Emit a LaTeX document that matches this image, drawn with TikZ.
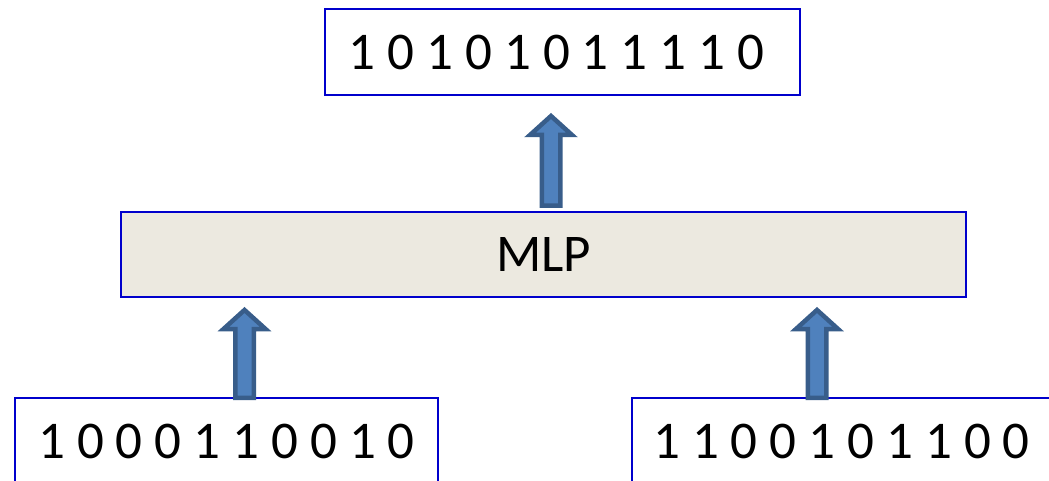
\documentclass[tikz,border=0pt]{standalone}
\usepackage{fontspec}
\setmainfont{Carlito}
\usetikzlibrary{calc}
\definecolor{boxBlue}{RGB}{0,0,204}
\definecolor{mlpFill}{RGB}{236,233,224}
\definecolor{arrFill}{RGB}{79,129,189}
\definecolor{arrLine}{RGB}{56,93,138}
\newcommand{\bitSize}[0]{\fontsize{53}{60}\selectfont}
\newcommand{\blockArrow}[2]{%
  \draw[block arrow] let \p1=(#1), \p2=(#2) in
    (\x1-9.25pt,\y1) -- (\x1-9.25pt,\y2-19pt) -- (\x1-21pt,\y2-19pt) -- (\x1,\y2)
    -- (\x1+21pt,\y2-19pt) -- (\x1+9.25pt,\y2-19pt) -- (\x1+9.25pt,\y1) -- cycle;}

\begin{document}
\begin{tikzpicture}[x=1pt, y=1pt]
  \tikzset{every node/.style={font=\bitSize, inner sep=0pt},
    bit box/.style={draw=boxBlue, line width=2pt, fill=white, minimum height=86pt},
    block arrow/.style={draw=arrLine, fill=arrFill, line width=4.5pt}}
  \useasboundingbox (0,0) rectangle (1049,-481);
  \node[bit box, minimum width=475pt](OUT-1) at (562.5,-52){1 0 1 0 1 0 1 1 1 1 0\kern12pt};
  \node[bit box, fill=mlpFill, minimum width=845pt, minimum height=85pt](MLP-1) at (543.5,-254.5){MLP};
  \node[bit box, minimum width=423pt](IN-1) at (226.5,-441){1 0 0 0 1 1 0 0 1 0};
  \node[bit box, minimum width=419pt](IN-2) at (841.5,-441){1 1 0 0 1 0 1 1 0 0};
  \coordinate (A-1-b) at (551,-205.75);
  \coordinate (A-1-t) at (551,-116);
  \coordinate (A-2-b) at (244.5,-397.75);
  \coordinate (A-2-t) at (244.5,-310);
  \coordinate (A-3-b) at (817,-397.75);
  \coordinate (A-3-t) at (817,-310);
  \blockArrow{A-1-b}{A-1-t}
  \blockArrow{A-2-b}{A-2-t}
  \blockArrow{A-3-b}{A-3-t}
\end{tikzpicture}
\end{document}
